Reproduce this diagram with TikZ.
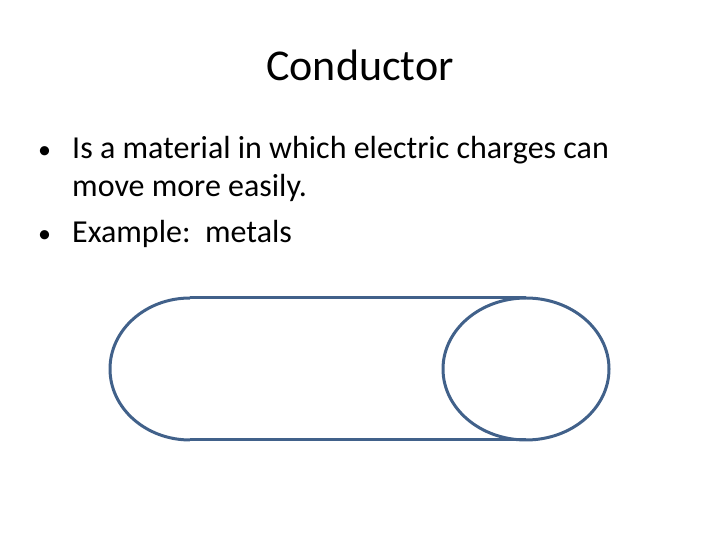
\documentclass[tikz,border=0pt]{standalone}
\usepackage{fontspec}
\setmainfont{Carlito}
\usetikzlibrary{positioning}
\definecolor{rimblue}{HTML}{41618A}

\begin{document}
\begin{tikzpicture}[x=1pt, y=1pt,
    title/.style={anchor=base, font=\fontsize{44}{52}\selectfont},
    bullet/.style={anchor=base west, font=\fontsize{32}{38}\selectfont, inner sep=0pt},
    rim/.style={draw=rimblue, line width=3pt}
]
\useasboundingbox (0,0) rectangle (720,540);

% Title
\node[title] (head) at (360,459) {Conductor};

% Bullets
\node[bullet, font=\fontsize{26}{30}\selectfont] (dot1) at (38,381) {•};
\node[bullet] (line1) at (72,381) {Is a material in which electric charges can};
\node[bullet] (line2) at (72,343) {move more easily.};
\node[bullet, font=\fontsize{26}{30}\selectfont] (dot2) at (38,297) {•};
\node[bullet] (line3) at (72,297) {Example:\ \ metals};

% Cylinder
\draw[rim] (190,242) -- (526,242);
\draw[rim] (190,100) -- (526,100);
\draw[rim] (190,242) arc[start angle=90, end angle=270, x radius=80, y radius=71];
\draw[rim] (526,171) ellipse[x radius=83, y radius=71];
\end{tikzpicture}
\end{document}
